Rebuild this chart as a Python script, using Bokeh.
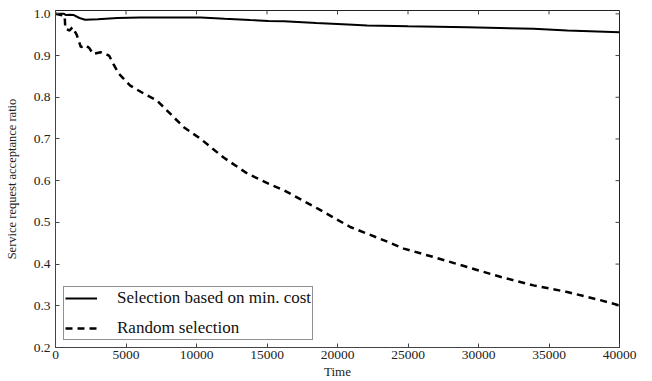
import math
from bokeh.plotting import figure
from bokeh.models import (Range1d, FixedTicker, NumeralTickFormatter,
                          Legend, LegendItem)
from bokeh.embed import file_html
from bokeh.resources import INLINE

# Data
time_min = [0, 600, 750, 1000, 1300, 1700, 2100, 3000, 4400, 6000, 8000, 10300,
            12000, 13800, 15100, 16200, 18500, 21100, 22100, 25000, 29200, 33900,
            36300, 40000]
acc_min = [1.0, 1.0, 0.997, 0.998, 0.997, 0.99, 0.986, 0.987, 0.990, 0.991, 0.991,
           0.991, 0.988, 0.985, 0.983, 0.982, 0.978, 0.974, 0.972, 0.970, 0.968,
           0.964, 0.960, 0.956]

time_rand = [0, 650, 700, 1000, 1200, 1500, 1800, 2100, 2400, 2650, 3200, 3800,
             4100, 4500, 5300, 6300, 7200, 7800, 9100, 10300, 11900, 13600, 15100,
             16200, 18600, 20900, 23300, 24700, 26800, 29200, 31600, 33900, 36300,
             38700, 40000]
acc_rand = [1.0, 0.995, 0.964, 0.96, 0.968, 0.95, 0.92, 0.925, 0.918, 0.904, 0.908,
            0.90, 0.88, 0.856, 0.828, 0.808, 0.792, 0.772, 0.728, 0.70, 0.656, 0.617,
            0.593, 0.577, 0.533, 0.489, 0.457, 0.437, 0.417, 0.393, 0.369, 0.349,
            0.333, 0.313, 0.301]

x_ticks = [0, 5000, 10000, 15000, 20000, 25000, 30000, 35000, 40000]
y_ticks = [0.2, 0.3, 0.4, 0.5, 0.6, 0.7, 0.8, 0.9, 1.0]

series_labels = ["Selection based on min. cost", "Random selection"]

FONT = "'Liberation Serif', 'Times New Roman', serif"
X_MIN, X_MAX = 0, 40000
Y_MIN, Y_MAX = 0.2, 1.008

p = figure(width=652, height=381, output_backend="svg", toolbar_location=None,
           x_range=Range1d(X_MIN, X_MAX), y_range=Range1d(Y_MIN, Y_MAX),
           min_border_left=55, min_border_right=33, min_border_top=10,
           min_border_bottom=34)
p.background_fill_color = "white"
p.border_fill_color = "white"
p.outline_line_color = "#222222"
p.outline_line_width = 1
p.xgrid.visible = False
p.ygrid.visible = False

xa = p.xaxis[0]
ya = p.yaxis[0]
xa.ticker = FixedTicker(ticks=x_ticks)
ya.ticker = FixedTicker(ticks=y_ticks)
ya.formatter = NumeralTickFormatter(format="0.0")
for ax in (xa, ya):
    ax.major_tick_in = 4
    ax.major_tick_out = 0
    ax.minor_tick_line_color = None
    ax.axis_line_color = "#444444"
    ax.major_tick_line_color = "#444444"
    ax.major_label_text_font = FONT
    ax.major_label_text_font_size = "13.5px"
    ax.major_label_text_color = "#222222"
    ax.axis_label_text_font = FONT
    ax.axis_label_text_font_style = "normal"
    ax.axis_label_text_color = "#222222"
xa.axis_label = "Time"
xa.axis_label_text_font_size = "13px"
xa.major_label_standoff = 3
xa.axis_label_standoff = 2
ya.axis_label = "Service request acceptance ratio"
ya.axis_label_text_font_size = "12.5px"
ya.major_label_standoff = 5
ya.axis_label_standoff = 12

# inward tick marks on the top and right frame edges
p.scatter(x_ticks, [Y_MAX] * len(x_ticks), marker="dash", size=8,
          angle=math.pi / 2, line_color="#444444", line_width=1)
p.scatter([X_MAX] * len(y_ticks), y_ticks, marker="dash", size=8,
          line_color="#444444", line_width=1)

r1 = p.line(time_min, acc_min, line_color="black", line_width=2)
r2 = p.line(time_rand, acc_rand, line_color="black", line_width=2.5,
            line_dash="7 5")

legend = Legend(items=[LegendItem(label=series_labels[0], renderers=[r1]),
                       LegendItem(label=series_labels[1], renderers=[r2])],
                location=(8, 7))
legend.label_text_font = FONT
legend.label_text_font_size = "17px"
legend.label_text_line_height = 1.0
legend.label_text_color = "#111111"
legend.padding = 1
legend.spacing = 10
legend.label_height = 20
legend.glyph_height = 20
legend.glyph_width = 32
legend.label_standoff = 20
legend.margin = 0
legend.border_line_color = "#222222"
legend.border_line_width = 1
legend.background_fill_alpha = 1
p.add_layout(legend, "center")

open("out.html", "w").write(file_html(p, INLINE))
